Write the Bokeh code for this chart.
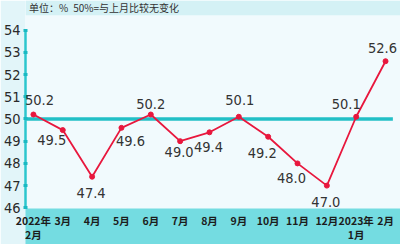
from bokeh.plotting import figure
from bokeh.models import (ColumnDataSource, LabelSet, Label, BoxAnnotation,
                          FixedTicker, Range1d)
from bokeh.core.properties import value
from bokeh.embed import file_html
from bokeh.resources import INLINE

# ---- data ----
months = ["2022年\n2月", "3月", "4月", "5月", "6月", "7月", "8月", "9月",
          "10月", "11月", "12月", "2023年\n1月", "2月"]
values = [50.2, 49.5, 47.4, 49.6, 50.2, 49.0, 49.4, 50.1, 49.2, 48.0, 47.0, 50.1, 52.6]
y_ticks = [46, 47, 48, 49, 50, 51, 52, 53, 54]
baseline = 50
note = "单位：%\u200250%=与上月比较无变化"

# label placement (screen px offsets)
label_dx = [6, -11, -1, 9, 0, -1, -1, 1, -6, -6, -1, -10, -3]
label_dy = [15, -10, -16, -13, 11, -11, -15, 17, -16, -15, -16, 13, 13]

idx = list(range(len(months)))
src = ColumnDataSource(dict(
    x=idx, y=values, txt=[f"{v:.1f}" for v in values],
    dx=label_dx, dy=label_dy,
))

NARROW = "'DejaVu Sans Condensed', 'Liberation Sans Narrow', 'Liberation Sans', sans-serif"
CJK = "Noto Sans CJK SC"

p = figure(width=400, height=244, output_backend="svg", toolbar_location=None,
           x_range=Range1d(-0.27, 12.51), y_range=Range1d(45.97, 55.333),
           min_border_left=23, min_border_right=0, min_border_top=0,
           min_border_bottom=0)
p.background_fill_color = "#f1fafd"
p.border_fill_color = "#e2f5f9"
p.outline_line_color = None
p.grid.grid_line_color = None

# top note band
p.add_layout(BoxAnnotation(bottom=54.67, fill_color="#d4f1f5", fill_alpha=1,
                           line_color=None))

# y axis
ya = p.yaxis[0]
ya.ticker = FixedTicker(ticks=y_ticks)
ya.bounds = (y_ticks[0], y_ticks[-1])
ya.axis_line_color = "#2cc6cd"
ya.axis_line_width = 2.5
ya.major_tick_line_color = "#19b9c2"
ya.major_tick_line_width = 3
ya.major_tick_in = 2
ya.major_tick_out = 2
ya.minor_tick_line_color = None
ya.major_label_standoff = 3
ya.major_label_text_font = NARROW
ya.major_label_text_font_size = "14.5px"
ya.major_label_text_color = "#2a2a2a"

# x axis (band)
xa = p.xaxis[0]
xa.ticker = FixedTicker(ticks=idx)
xa.major_label_overrides = {i: m for i, m in zip(idx, months)}
xa.axis_line_color = None
xa.major_tick_line_color = None
xa.major_tick_out = 0
xa.major_tick_in = 0
xa.minor_tick_line_color = None
xa.major_label_standoff = 4
xa.major_label_text_font = CJK
xa.major_label_text_font_style = "bold"
xa.major_label_text_font_size = "10.5px"
xa.major_label_text_color = "#1c1c1c"
xa.major_label_text_line_height = 0.95
xa.background_fill_color = "#74dce1"

# baseline 50
p.segment(x0=[-0.27], y0=[baseline], x1=[12.25], y1=[baseline],
          line_color="#22bfc6", line_width=3.5)

# series
p.line("x", "y", source=src, line_color="#e8173d", line_width=1.8)
p.scatter("x", "y", source=src, size=5, fill_color="#e8173d",
          line_color="#e8173d")

p.add_layout(LabelSet(x="x", y="y", text="txt", source=src,
                      x_offset="dx", y_offset="dy",
                      text_align="center", text_baseline="middle",
                      text_font=value(NARROW), text_font_size="14.5px",
                      text_color="#333333"))

p.add_layout(Label(x=-0.15, y=55.0, text=note, text_font=CJK,
                   text_font_size="10px", text_color="#333333",
                   text_baseline="middle"))

open("out.html", "w").write(file_html(p, INLINE))
